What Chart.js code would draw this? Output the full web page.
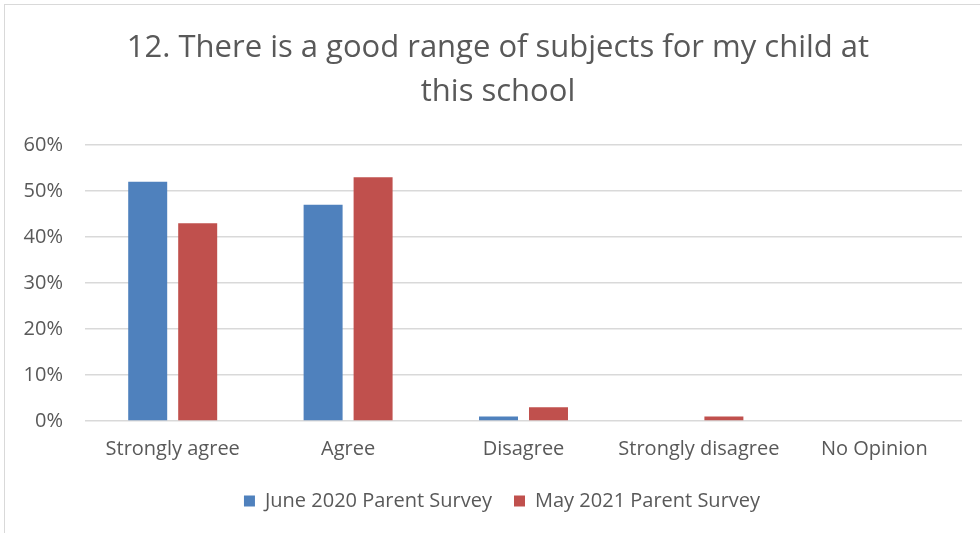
<!DOCTYPE html>
<html>
<head>
<meta charset="utf-8">
<script src="https://cdn.jsdelivr.net/npm/chart.js@4/dist/chart.umd.min.js"></script>
<style>
  html, body { margin: 0; padding: 0; background: #fff; }
  #wrap { position: relative; width: 980px; height: 533px; overflow: hidden; }
  #frame { position: absolute; left: 4px; top: 4px; width: 1000px; height: 600px; border: 1px solid #d9d9d9; box-sizing: border-box; }
  #chart { position: absolute; left: 0; top: 0; }
</style>
</head>
<body>
<div id="wrap">
  <div id="frame"></div>
  <canvas id="chart" width="980" height="533"></canvas>
</div>
<script>
const categories = ['Strongly agree', 'Agree', 'Disagree', 'Strongly disagree', 'No Opinion'];
const june2020 = [0.52, 0.47, 0.01, 0, 0];
const may2021 = [0.43, 0.53, 0.03, 0.01, 0];
const seriesNames = ['June 2020 Parent Survey', 'May 2021 Parent Survey'];

const textColor = '#595959';

// the original title and legend sit a little right of the canvas centre
const blockShift = {
  id: 'blockShift',
  afterLayout(chart) {
    if (chart.titleBlock) {
      chart.titleBlock.left += 22;
    }
    if (chart.legend) {
      chart.legend.left += 30;
    }
  }
};

new Chart(document.getElementById('chart'), {
  type: 'bar',
  data: {
    labels: categories,
    datasets: [
      {
        label: seriesNames[0],
        data: june2020,
        backgroundColor: '#4f81bd',
        borderWidth: 0,
      },
      {
        label: seriesNames[1],
        data: may2021,
        backgroundColor: '#c0504d',
        borderWidth: 0,
      }
    ]
  },
  options: {
    responsive: false,
    animation: false,
    categoryPercentage: 0.57,
    barPercentage: 0.78,
    layout: {
      padding: { top: 26, left: 12, right: 18, bottom: 12 }
    },
    scales: {
      x: {
        grid: { display: false },
        border: { display: false },
        ticks: {
          color: textColor,
          font: { family: 'Open Sans', size: 20 },
          padding: 8,
        }
      },
      y: {
        min: 0,
        max: 0.6,
        border: { display: false },
        grid: { color: '#d9d9d9', lineWidth: 1.5, drawTicks: false },
        afterFit: function (scale) {
          scale.width = 73;
        },
        ticks: {
          stepSize: 0.1,
          color: textColor,
          padding: 22,
          font: { family: 'Open Sans', size: 20 },
          callback: function (value) {
            return Math.round(value * 100) + '%';
          }
        }
      }
    },
    plugins: {
      title: {
        display: true,
        text: ['12. There is a good range of subjects for my child at', 'this school'],
        color: textColor,
        font: { family: 'Open Sans', size: 31, weight: 'normal', lineHeight: 1.42 },
        padding: { top: 0, bottom: 31 }
      },
      legend: {
        position: 'bottom',
        labels: {
          color: textColor,
          boxWidth: 11,
          boxHeight: 11,
          padding: 22,
          font: { family: 'Open Sans', size: 20 }
        }
      },
      tooltip: { enabled: false }
    }
  },
  plugins: [blockShift]
});
</script>
</body>
</html>
